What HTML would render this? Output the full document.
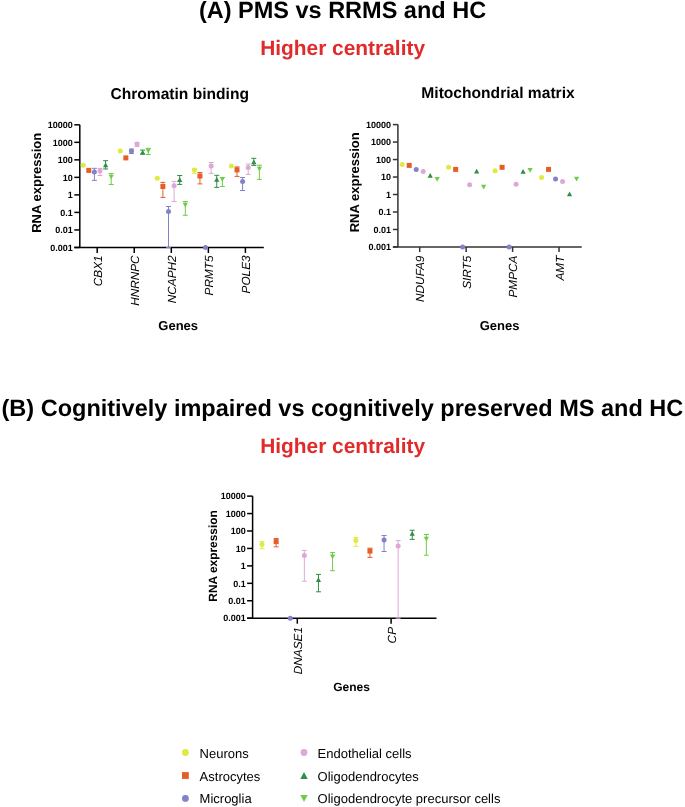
<!DOCTYPE html>
<html><head><meta charset="utf-8"><style>
html,body{margin:0;padding:0;background:#fff;}
body{width:685px;height:807px;overflow:hidden;font-family:"Liberation Sans", sans-serif;}
svg{display:block;will-change:transform;text-rendering:geometricPrecision;}
</style></head><body>
<svg width="685" height="807" viewBox="0 0 685 807" font-family='"Liberation Sans", sans-serif' fill="#000">
<rect width="685" height="807" fill="#fff"/>
<text x="342.5" y="18" font-size="23.5" font-weight="bold" text-anchor="middle">(A) PMS vs RRMS and HC</text>
<text x="342.6" y="55" font-size="20.9" font-weight="bold" text-anchor="middle" fill="#E12B2B">Higher centrality</text>
<text x="179.7" y="98.6" font-size="15.6" font-weight="bold" text-anchor="middle">Chromatin binding</text>
<text x="498" y="98.3" font-size="15.6" font-weight="bold" text-anchor="middle">Mitochondrial matrix</text>
<line x1="79.80" y1="124.81" x2="79.80" y2="247.45" stroke="#000" stroke-width="1.5"/>
<line x1="74.30" y1="247.45" x2="263.80" y2="247.45" stroke="#000" stroke-width="1.5"/>
<line x1="74.30" y1="247.45" x2="79.80" y2="247.45" stroke="#000" stroke-width="1.5"/>
<text x="72.80" y="250.69" font-size="9.0" font-weight="bold" text-anchor="end">0.001</text>
<line x1="74.30" y1="229.93" x2="79.80" y2="229.93" stroke="#000" stroke-width="1.5"/>
<text x="72.80" y="233.17" font-size="9.0" font-weight="bold" text-anchor="end">0.01</text>
<line x1="74.30" y1="212.41" x2="79.80" y2="212.41" stroke="#000" stroke-width="1.5"/>
<text x="72.80" y="215.65" font-size="9.0" font-weight="bold" text-anchor="end">0.1</text>
<line x1="74.30" y1="194.89" x2="79.80" y2="194.89" stroke="#000" stroke-width="1.5"/>
<text x="72.80" y="198.13" font-size="9.0" font-weight="bold" text-anchor="end">1</text>
<line x1="74.30" y1="177.37" x2="79.80" y2="177.37" stroke="#000" stroke-width="1.5"/>
<text x="72.80" y="180.61" font-size="9.0" font-weight="bold" text-anchor="end">10</text>
<line x1="74.30" y1="159.85" x2="79.80" y2="159.85" stroke="#000" stroke-width="1.5"/>
<text x="72.80" y="163.09" font-size="9.0" font-weight="bold" text-anchor="end">100</text>
<line x1="74.30" y1="142.33" x2="79.80" y2="142.33" stroke="#000" stroke-width="1.5"/>
<text x="72.80" y="145.57" font-size="9.0" font-weight="bold" text-anchor="end">1000</text>
<line x1="74.30" y1="124.81" x2="79.80" y2="124.81" stroke="#000" stroke-width="1.5"/>
<text x="72.80" y="128.05" font-size="9.0" font-weight="bold" text-anchor="end">10000</text>
<line x1="97.20" y1="247.45" x2="97.20" y2="252.95" stroke="#000" stroke-width="1.5"/>
<line x1="134.25" y1="247.45" x2="134.25" y2="252.95" stroke="#000" stroke-width="1.5"/>
<line x1="171.30" y1="247.45" x2="171.30" y2="252.95" stroke="#000" stroke-width="1.5"/>
<line x1="208.35" y1="247.45" x2="208.35" y2="252.95" stroke="#000" stroke-width="1.5"/>
<line x1="245.40" y1="247.45" x2="245.40" y2="252.95" stroke="#000" stroke-width="1.5"/>
<text transform="translate(41.10,182.80) rotate(-90)" x="0" y="0" font-size="13" font-weight="bold" text-anchor="middle">RNA expression</text>
<text transform="translate(101.80,255.40) rotate(-90)" x="0" y="0" font-size="11.8" font-style="italic" text-anchor="end">CBX1</text>
<text transform="translate(138.85,255.40) rotate(-90)" x="0" y="0" font-size="11.8" font-style="italic" text-anchor="end">HNRNPC</text>
<text transform="translate(175.90,255.40) rotate(-90)" x="0" y="0" font-size="11.8" font-style="italic" text-anchor="end">NCAPH2</text>
<text transform="translate(212.95,255.40) rotate(-90)" x="0" y="0" font-size="11.8" font-style="italic" text-anchor="end">PRMT5</text>
<text transform="translate(250.00,255.40) rotate(-90)" x="0" y="0" font-size="11.8" font-style="italic" text-anchor="end">POLE3</text>
<text x="178.20" y="329.90" font-size="13" font-weight="bold" text-anchor="middle">Genes</text>
<line x1="94.40" y1="168.30" x2="94.40" y2="180.40" stroke="#8282C8" stroke-width="1.0"/>
<line x1="91.90" y1="168.30" x2="96.90" y2="168.30" stroke="#8282C8" stroke-width="1.0"/>
<line x1="91.90" y1="180.40" x2="96.90" y2="180.40" stroke="#8282C8" stroke-width="1.0"/>
<line x1="100.00" y1="168.50" x2="100.00" y2="175.50" stroke="#DEA8D6" stroke-width="1.0"/>
<line x1="97.50" y1="168.50" x2="102.50" y2="168.50" stroke="#DEA8D6" stroke-width="1.0"/>
<line x1="97.50" y1="175.50" x2="102.50" y2="175.50" stroke="#DEA8D6" stroke-width="1.0"/>
<line x1="105.60" y1="160.70" x2="105.60" y2="169.00" stroke="#308C46" stroke-width="1.0"/>
<line x1="103.10" y1="160.70" x2="108.10" y2="160.70" stroke="#308C46" stroke-width="1.0"/>
<line x1="103.10" y1="169.00" x2="108.10" y2="169.00" stroke="#308C46" stroke-width="1.0"/>
<line x1="111.20" y1="173.60" x2="111.20" y2="184.50" stroke="#6ECD46" stroke-width="1.0"/>
<line x1="108.70" y1="173.60" x2="113.70" y2="173.60" stroke="#6ECD46" stroke-width="1.0"/>
<line x1="108.70" y1="184.50" x2="113.70" y2="184.50" stroke="#6ECD46" stroke-width="1.0"/>
<circle cx="83.20" cy="165.30" r="2.50" fill="#E0EA3C"/>
<rect x="86.30" y="167.90" width="5.00" height="5.00" fill="#E55E28"/>
<circle cx="94.40" cy="172.10" r="2.50" fill="#8282C8"/>
<circle cx="100.00" cy="171.00" r="2.50" fill="#DEA8D6"/>
<polygon points="105.60,162.45 103.00,167.15 108.20,167.15" fill="#308C46"/>
<polygon points="108.60,174.65 113.80,174.65 111.20,179.35" fill="#6ECD46"/>
<line x1="131.45" y1="149.10" x2="131.45" y2="153.50" stroke="#8282C8" stroke-width="1.0"/>
<line x1="128.95" y1="149.10" x2="133.95" y2="149.10" stroke="#8282C8" stroke-width="1.0"/>
<line x1="128.95" y1="153.50" x2="133.95" y2="153.50" stroke="#8282C8" stroke-width="1.0"/>
<line x1="137.05" y1="142.50" x2="137.05" y2="146.40" stroke="#DEA8D6" stroke-width="1.0"/>
<line x1="134.55" y1="142.50" x2="139.55" y2="142.50" stroke="#DEA8D6" stroke-width="1.0"/>
<line x1="134.55" y1="146.40" x2="139.55" y2="146.40" stroke="#DEA8D6" stroke-width="1.0"/>
<line x1="142.65" y1="150.10" x2="142.65" y2="154.20" stroke="#308C46" stroke-width="1.0"/>
<line x1="140.15" y1="150.10" x2="145.15" y2="150.10" stroke="#308C46" stroke-width="1.0"/>
<line x1="140.15" y1="154.20" x2="145.15" y2="154.20" stroke="#308C46" stroke-width="1.0"/>
<line x1="148.25" y1="148.30" x2="148.25" y2="154.50" stroke="#6ECD46" stroke-width="1.0"/>
<line x1="145.75" y1="148.30" x2="150.75" y2="148.30" stroke="#6ECD46" stroke-width="1.0"/>
<line x1="145.75" y1="154.50" x2="150.75" y2="154.50" stroke="#6ECD46" stroke-width="1.0"/>
<circle cx="120.25" cy="151.10" r="2.50" fill="#E0EA3C"/>
<rect x="123.35" y="155.40" width="5.00" height="5.00" fill="#E55E28"/>
<circle cx="131.45" cy="151.00" r="2.50" fill="#8282C8"/>
<circle cx="137.05" cy="144.00" r="2.50" fill="#DEA8D6"/>
<polygon points="142.65,149.85 140.05,154.55 145.25,154.55" fill="#308C46"/>
<polygon points="145.65,148.45 150.85,148.45 148.25,153.15" fill="#6ECD46"/>
<line x1="162.90" y1="182.40" x2="162.90" y2="197.40" stroke="#E55E28" stroke-width="1.0"/>
<line x1="160.40" y1="182.40" x2="165.40" y2="182.40" stroke="#E55E28" stroke-width="1.0"/>
<line x1="160.40" y1="197.40" x2="165.40" y2="197.40" stroke="#E55E28" stroke-width="1.0"/>
<line x1="168.50" y1="206.50" x2="168.50" y2="247.45" stroke="#8282C8" stroke-width="1.0"/>
<line x1="166.00" y1="206.50" x2="171.00" y2="206.50" stroke="#8282C8" stroke-width="1.0"/>
<line x1="166.00" y1="247.45" x2="171.00" y2="247.45" stroke="#8282C8" stroke-width="1.0"/>
<line x1="174.10" y1="181.40" x2="174.10" y2="201.50" stroke="#DEA8D6" stroke-width="1.0"/>
<line x1="171.60" y1="181.40" x2="176.60" y2="181.40" stroke="#DEA8D6" stroke-width="1.0"/>
<line x1="171.60" y1="201.50" x2="176.60" y2="201.50" stroke="#DEA8D6" stroke-width="1.0"/>
<line x1="179.70" y1="175.50" x2="179.70" y2="184.40" stroke="#308C46" stroke-width="1.0"/>
<line x1="177.20" y1="175.50" x2="182.20" y2="175.50" stroke="#308C46" stroke-width="1.0"/>
<line x1="177.20" y1="184.40" x2="182.20" y2="184.40" stroke="#308C46" stroke-width="1.0"/>
<line x1="185.30" y1="201.50" x2="185.30" y2="215.30" stroke="#6ECD46" stroke-width="1.0"/>
<line x1="182.80" y1="201.50" x2="187.80" y2="201.50" stroke="#6ECD46" stroke-width="1.0"/>
<line x1="182.80" y1="215.30" x2="187.80" y2="215.30" stroke="#6ECD46" stroke-width="1.0"/>
<circle cx="157.30" cy="178.30" r="2.50" fill="#E0EA3C"/>
<rect x="160.40" y="184.00" width="5.00" height="5.00" fill="#E55E28"/>
<circle cx="168.50" cy="211.40" r="2.50" fill="#8282C8"/>
<circle cx="174.10" cy="185.70" r="2.50" fill="#DEA8D6"/>
<polygon points="179.70,177.25 177.10,181.95 182.30,181.95" fill="#308C46"/>
<polygon points="182.70,202.85 187.90,202.85 185.30,207.55" fill="#6ECD46"/>
<line x1="194.35" y1="168.60" x2="194.35" y2="173.40" stroke="#E0EA3C" stroke-width="1.0"/>
<line x1="191.85" y1="168.60" x2="196.85" y2="168.60" stroke="#E0EA3C" stroke-width="1.0"/>
<line x1="191.85" y1="173.40" x2="196.85" y2="173.40" stroke="#E0EA3C" stroke-width="1.0"/>
<line x1="199.95" y1="172.50" x2="199.95" y2="183.90" stroke="#E55E28" stroke-width="1.0"/>
<line x1="197.45" y1="172.50" x2="202.45" y2="172.50" stroke="#E55E28" stroke-width="1.0"/>
<line x1="197.45" y1="183.90" x2="202.45" y2="183.90" stroke="#E55E28" stroke-width="1.0"/>
<line x1="211.15" y1="162.50" x2="211.15" y2="173.40" stroke="#DEA8D6" stroke-width="1.0"/>
<line x1="208.65" y1="162.50" x2="213.65" y2="162.50" stroke="#DEA8D6" stroke-width="1.0"/>
<line x1="208.65" y1="173.40" x2="213.65" y2="173.40" stroke="#DEA8D6" stroke-width="1.0"/>
<line x1="216.75" y1="175.30" x2="216.75" y2="187.40" stroke="#308C46" stroke-width="1.0"/>
<line x1="214.25" y1="175.30" x2="219.25" y2="175.30" stroke="#308C46" stroke-width="1.0"/>
<line x1="214.25" y1="187.40" x2="219.25" y2="187.40" stroke="#308C46" stroke-width="1.0"/>
<line x1="222.35" y1="177.50" x2="222.35" y2="186.50" stroke="#6ECD46" stroke-width="1.0"/>
<line x1="219.85" y1="177.50" x2="224.85" y2="177.50" stroke="#6ECD46" stroke-width="1.0"/>
<line x1="219.85" y1="186.50" x2="224.85" y2="186.50" stroke="#6ECD46" stroke-width="1.0"/>
<circle cx="194.35" cy="170.10" r="2.50" fill="#E0EA3C"/>
<rect x="197.45" y="173.50" width="5.00" height="5.00" fill="#E55E28"/>
<circle cx="205.55" cy="247.45" r="2.50" fill="#8282C8"/>
<circle cx="211.15" cy="166.10" r="2.50" fill="#DEA8D6"/>
<polygon points="216.75,177.05 214.15,181.75 219.35,181.75" fill="#308C46"/>
<polygon points="219.75,177.05 224.95,177.05 222.35,181.75" fill="#6ECD46"/>
<line x1="237.00" y1="166.90" x2="237.00" y2="176.40" stroke="#E55E28" stroke-width="1.0"/>
<line x1="234.50" y1="166.90" x2="239.50" y2="166.90" stroke="#E55E28" stroke-width="1.0"/>
<line x1="234.50" y1="176.40" x2="239.50" y2="176.40" stroke="#E55E28" stroke-width="1.0"/>
<line x1="242.60" y1="177.50" x2="242.60" y2="190.50" stroke="#8282C8" stroke-width="1.0"/>
<line x1="240.10" y1="177.50" x2="245.10" y2="177.50" stroke="#8282C8" stroke-width="1.0"/>
<line x1="240.10" y1="190.50" x2="245.10" y2="190.50" stroke="#8282C8" stroke-width="1.0"/>
<line x1="248.20" y1="164.00" x2="248.20" y2="174.40" stroke="#DEA8D6" stroke-width="1.0"/>
<line x1="245.70" y1="164.00" x2="250.70" y2="164.00" stroke="#DEA8D6" stroke-width="1.0"/>
<line x1="245.70" y1="174.40" x2="250.70" y2="174.40" stroke="#DEA8D6" stroke-width="1.0"/>
<line x1="253.80" y1="158.30" x2="253.80" y2="165.40" stroke="#308C46" stroke-width="1.0"/>
<line x1="251.30" y1="158.30" x2="256.30" y2="158.30" stroke="#308C46" stroke-width="1.0"/>
<line x1="251.30" y1="165.40" x2="256.30" y2="165.40" stroke="#308C46" stroke-width="1.0"/>
<line x1="259.40" y1="165.20" x2="259.40" y2="179.40" stroke="#6ECD46" stroke-width="1.0"/>
<line x1="256.90" y1="165.20" x2="261.90" y2="165.20" stroke="#6ECD46" stroke-width="1.0"/>
<line x1="256.90" y1="179.40" x2="261.90" y2="179.40" stroke="#6ECD46" stroke-width="1.0"/>
<circle cx="231.40" cy="166.10" r="2.50" fill="#E0EA3C"/>
<rect x="234.50" y="167.40" width="5.00" height="5.00" fill="#E55E28"/>
<circle cx="242.60" cy="181.50" r="2.50" fill="#8282C8"/>
<circle cx="248.20" cy="167.50" r="2.50" fill="#DEA8D6"/>
<polygon points="253.80,159.45 251.20,164.15 256.40,164.15" fill="#308C46"/>
<polygon points="256.80,166.75 262.00,166.75 259.40,171.45" fill="#6ECD46"/>
<line x1="397.90" y1="124.59" x2="397.90" y2="246.95" stroke="#333" stroke-width="1.5"/>
<line x1="392.90" y1="246.95" x2="581.70" y2="246.95" stroke="#333" stroke-width="1.5"/>
<line x1="392.90" y1="246.95" x2="397.90" y2="246.95" stroke="#333" stroke-width="1.5"/>
<text x="391.00" y="250.19" font-size="9.0" font-weight="bold" text-anchor="end">0.001</text>
<line x1="392.90" y1="229.47" x2="397.90" y2="229.47" stroke="#333" stroke-width="1.5"/>
<text x="391.00" y="232.71" font-size="9.0" font-weight="bold" text-anchor="end">0.01</text>
<line x1="392.90" y1="211.99" x2="397.90" y2="211.99" stroke="#333" stroke-width="1.5"/>
<text x="391.00" y="215.23" font-size="9.0" font-weight="bold" text-anchor="end">0.1</text>
<line x1="392.90" y1="194.51" x2="397.90" y2="194.51" stroke="#333" stroke-width="1.5"/>
<text x="391.00" y="197.75" font-size="9.0" font-weight="bold" text-anchor="end">1</text>
<line x1="392.90" y1="177.03" x2="397.90" y2="177.03" stroke="#333" stroke-width="1.5"/>
<text x="391.00" y="180.27" font-size="9.0" font-weight="bold" text-anchor="end">10</text>
<line x1="392.90" y1="159.55" x2="397.90" y2="159.55" stroke="#333" stroke-width="1.5"/>
<text x="391.00" y="162.79" font-size="9.0" font-weight="bold" text-anchor="end">100</text>
<line x1="392.90" y1="142.07" x2="397.90" y2="142.07" stroke="#333" stroke-width="1.5"/>
<text x="391.00" y="145.31" font-size="9.0" font-weight="bold" text-anchor="end">1000</text>
<line x1="392.90" y1="124.59" x2="397.90" y2="124.59" stroke="#333" stroke-width="1.5"/>
<text x="391.00" y="127.83" font-size="9.0" font-weight="bold" text-anchor="end">10000</text>
<line x1="419.70" y1="246.95" x2="419.70" y2="251.95" stroke="#333" stroke-width="1.5"/>
<line x1="466.15" y1="246.95" x2="466.15" y2="251.95" stroke="#333" stroke-width="1.5"/>
<line x1="512.60" y1="246.95" x2="512.60" y2="251.95" stroke="#333" stroke-width="1.5"/>
<line x1="559.05" y1="246.95" x2="559.05" y2="251.95" stroke="#333" stroke-width="1.5"/>
<text transform="translate(359.00,182.30) rotate(-90)" x="0" y="0" font-size="13" font-weight="bold" text-anchor="middle">RNA expression</text>
<text transform="translate(424.30,255.60) rotate(-90)" x="0" y="0" font-size="11.8" font-style="italic" text-anchor="end">NDUFA9</text>
<text transform="translate(470.75,255.60) rotate(-90)" x="0" y="0" font-size="11.8" font-style="italic" text-anchor="end">SIRT5</text>
<text transform="translate(517.20,255.60) rotate(-90)" x="0" y="0" font-size="11.8" font-style="italic" text-anchor="end">PMPCA</text>
<text transform="translate(563.65,255.60) rotate(-90)" x="0" y="0" font-size="11.8" font-style="italic" text-anchor="end">AMT</text>
<text x="499.60" y="329.90" font-size="13" font-weight="bold" text-anchor="middle">Genes</text>
<circle cx="402.20" cy="164.60" r="2.50" fill="#E0EA3C"/>
<rect x="406.70" y="162.90" width="5.00" height="5.00" fill="#E55E28"/>
<circle cx="416.20" cy="169.40" r="2.50" fill="#8282C8"/>
<circle cx="423.20" cy="171.60" r="2.50" fill="#DEA8D6"/>
<polygon points="430.20,173.05 427.60,177.75 432.80,177.75" fill="#308C46"/>
<polygon points="434.60,177.05 439.80,177.05 437.20,181.75" fill="#6ECD46"/>
<circle cx="448.65" cy="167.20" r="2.50" fill="#E0EA3C"/>
<rect x="453.15" y="166.90" width="5.00" height="5.00" fill="#E55E28"/>
<circle cx="462.65" cy="246.95" r="2.50" fill="#8282C8"/>
<circle cx="469.65" cy="184.80" r="2.50" fill="#DEA8D6"/>
<polygon points="476.65,168.85 474.05,173.55 479.25,173.55" fill="#308C46"/>
<polygon points="481.05,184.75 486.25,184.75 483.65,189.45" fill="#6ECD46"/>
<circle cx="495.10" cy="170.80" r="2.50" fill="#E0EA3C"/>
<rect x="499.60" y="164.80" width="5.00" height="5.00" fill="#E55E28"/>
<circle cx="509.10" cy="246.95" r="2.50" fill="#8282C8"/>
<circle cx="516.10" cy="184.20" r="2.50" fill="#DEA8D6"/>
<polygon points="523.10,169.05 520.50,173.75 525.70,173.75" fill="#308C46"/>
<polygon points="527.50,168.05 532.70,168.05 530.10,172.75" fill="#6ECD46"/>
<circle cx="541.55" cy="177.40" r="2.50" fill="#E0EA3C"/>
<rect x="546.05" y="166.90" width="5.00" height="5.00" fill="#E55E28"/>
<circle cx="555.55" cy="178.90" r="2.50" fill="#8282C8"/>
<circle cx="562.55" cy="181.40" r="2.50" fill="#DEA8D6"/>
<polygon points="569.55,191.45 566.95,196.15 572.15,196.15" fill="#308C46"/>
<polygon points="573.95,176.85 579.15,176.85 576.55,181.55" fill="#6ECD46"/>
<text x="342.4" y="415.7" font-size="23.5" font-weight="bold" text-anchor="middle">(B) Cognitively impaired vs cognitively preserved MS and HC</text>
<text x="342.6" y="453" font-size="20.9" font-weight="bold" text-anchor="middle" fill="#E12B2B">Higher centrality</text>
<line x1="252.60" y1="496.12" x2="252.60" y2="618.20" stroke="#000" stroke-width="1.5"/>
<line x1="247.10" y1="618.20" x2="436.50" y2="618.20" stroke="#000" stroke-width="1.5"/>
<line x1="247.10" y1="618.20" x2="252.60" y2="618.20" stroke="#000" stroke-width="1.5"/>
<text x="245.80" y="621.44" font-size="9.0" font-weight="bold" text-anchor="end">0.001</text>
<line x1="247.10" y1="600.76" x2="252.60" y2="600.76" stroke="#000" stroke-width="1.5"/>
<text x="245.80" y="604.00" font-size="9.0" font-weight="bold" text-anchor="end">0.01</text>
<line x1="247.10" y1="583.32" x2="252.60" y2="583.32" stroke="#000" stroke-width="1.5"/>
<text x="245.80" y="586.56" font-size="9.0" font-weight="bold" text-anchor="end">0.1</text>
<line x1="247.10" y1="565.88" x2="252.60" y2="565.88" stroke="#000" stroke-width="1.5"/>
<text x="245.80" y="569.12" font-size="9.0" font-weight="bold" text-anchor="end">1</text>
<line x1="247.10" y1="548.44" x2="252.60" y2="548.44" stroke="#000" stroke-width="1.5"/>
<text x="245.80" y="551.68" font-size="9.0" font-weight="bold" text-anchor="end">10</text>
<line x1="247.10" y1="531.00" x2="252.60" y2="531.00" stroke="#000" stroke-width="1.5"/>
<text x="245.80" y="534.24" font-size="9.0" font-weight="bold" text-anchor="end">100</text>
<line x1="247.10" y1="513.56" x2="252.60" y2="513.56" stroke="#000" stroke-width="1.5"/>
<text x="245.80" y="516.80" font-size="9.0" font-weight="bold" text-anchor="end">1000</text>
<line x1="247.10" y1="496.12" x2="252.60" y2="496.12" stroke="#000" stroke-width="1.5"/>
<text x="245.80" y="499.36" font-size="9.0" font-weight="bold" text-anchor="end">10000</text>
<line x1="297.30" y1="618.20" x2="297.30" y2="623.70" stroke="#000" stroke-width="1.5"/>
<line x1="391.10" y1="618.20" x2="391.10" y2="623.70" stroke="#000" stroke-width="1.5"/>
<text transform="translate(216.60,556.00) rotate(-90)" x="0" y="0" font-size="11.9" font-weight="bold" text-anchor="middle">RNA expression</text>
<text transform="translate(301.90,627.00) rotate(-90)" x="0" y="0" font-size="11.8" font-style="italic" text-anchor="end">DNASE1</text>
<text transform="translate(395.70,627.00) rotate(-90)" x="0" y="0" font-size="11.8" font-style="italic" text-anchor="end">CP</text>
<text x="351.50" y="691.00" font-size="12" font-weight="bold" text-anchor="middle">Genes</text>
<line x1="262.05" y1="541.60" x2="262.05" y2="548.70" stroke="#E0EA3C" stroke-width="1.0"/>
<line x1="259.55" y1="541.60" x2="264.55" y2="541.60" stroke="#E0EA3C" stroke-width="1.0"/>
<line x1="259.55" y1="548.70" x2="264.55" y2="548.70" stroke="#E0EA3C" stroke-width="1.0"/>
<line x1="276.15" y1="538.50" x2="276.15" y2="546.80" stroke="#E55E28" stroke-width="1.0"/>
<line x1="273.65" y1="538.50" x2="278.65" y2="538.50" stroke="#E55E28" stroke-width="1.0"/>
<line x1="273.65" y1="546.80" x2="278.65" y2="546.80" stroke="#E55E28" stroke-width="1.0"/>
<line x1="304.35" y1="550.40" x2="304.35" y2="581.20" stroke="#DEA8D6" stroke-width="1.0"/>
<line x1="301.85" y1="550.40" x2="306.85" y2="550.40" stroke="#DEA8D6" stroke-width="1.0"/>
<line x1="301.85" y1="581.20" x2="306.85" y2="581.20" stroke="#DEA8D6" stroke-width="1.0"/>
<line x1="318.45" y1="574.40" x2="318.45" y2="591.80" stroke="#308C46" stroke-width="1.0"/>
<line x1="315.95" y1="574.40" x2="320.95" y2="574.40" stroke="#308C46" stroke-width="1.0"/>
<line x1="315.95" y1="591.80" x2="320.95" y2="591.80" stroke="#308C46" stroke-width="1.0"/>
<line x1="332.55" y1="552.60" x2="332.55" y2="570.70" stroke="#6ECD46" stroke-width="1.0"/>
<line x1="330.05" y1="552.60" x2="335.05" y2="552.60" stroke="#6ECD46" stroke-width="1.0"/>
<line x1="330.05" y1="570.70" x2="335.05" y2="570.70" stroke="#6ECD46" stroke-width="1.0"/>
<circle cx="262.05" cy="544.50" r="2.50" fill="#E0EA3C"/>
<rect x="273.65" y="539.10" width="5.00" height="5.00" fill="#E55E28"/>
<circle cx="290.25" cy="618.20" r="2.50" fill="#8282C8"/>
<circle cx="304.35" cy="555.60" r="2.50" fill="#DEA8D6"/>
<polygon points="318.45,577.35 315.85,582.05 321.05,582.05" fill="#308C46"/>
<polygon points="329.95,554.55 335.15,554.55 332.55,559.25" fill="#6ECD46"/>
<line x1="355.85" y1="537.50" x2="355.85" y2="546.30" stroke="#E0EA3C" stroke-width="1.0"/>
<line x1="353.35" y1="537.50" x2="358.35" y2="537.50" stroke="#E0EA3C" stroke-width="1.0"/>
<line x1="353.35" y1="546.30" x2="358.35" y2="546.30" stroke="#E0EA3C" stroke-width="1.0"/>
<line x1="369.95" y1="548.20" x2="369.95" y2="557.40" stroke="#E55E28" stroke-width="1.0"/>
<line x1="367.45" y1="548.20" x2="372.45" y2="548.20" stroke="#E55E28" stroke-width="1.0"/>
<line x1="367.45" y1="557.40" x2="372.45" y2="557.40" stroke="#E55E28" stroke-width="1.0"/>
<line x1="384.05" y1="535.50" x2="384.05" y2="551.50" stroke="#8282C8" stroke-width="1.0"/>
<line x1="381.55" y1="535.50" x2="386.55" y2="535.50" stroke="#8282C8" stroke-width="1.0"/>
<line x1="381.55" y1="551.50" x2="386.55" y2="551.50" stroke="#8282C8" stroke-width="1.0"/>
<line x1="398.15" y1="540.60" x2="398.15" y2="618.20" stroke="#DEA8D6" stroke-width="1.0"/>
<line x1="395.65" y1="540.60" x2="400.65" y2="540.60" stroke="#DEA8D6" stroke-width="1.0"/>
<line x1="395.65" y1="618.20" x2="400.65" y2="618.20" stroke="#DEA8D6" stroke-width="1.0"/>
<line x1="412.25" y1="530.20" x2="412.25" y2="539.40" stroke="#308C46" stroke-width="1.0"/>
<line x1="409.75" y1="530.20" x2="414.75" y2="530.20" stroke="#308C46" stroke-width="1.0"/>
<line x1="409.75" y1="539.40" x2="414.75" y2="539.40" stroke="#308C46" stroke-width="1.0"/>
<line x1="426.35" y1="534.50" x2="426.35" y2="555.20" stroke="#6ECD46" stroke-width="1.0"/>
<line x1="423.85" y1="534.50" x2="428.85" y2="534.50" stroke="#6ECD46" stroke-width="1.0"/>
<line x1="423.85" y1="555.20" x2="428.85" y2="555.20" stroke="#6ECD46" stroke-width="1.0"/>
<circle cx="355.85" cy="540.60" r="2.50" fill="#E0EA3C"/>
<rect x="367.45" y="548.60" width="5.00" height="5.00" fill="#E55E28"/>
<circle cx="384.05" cy="540.00" r="2.50" fill="#8282C8"/>
<circle cx="398.15" cy="546.00" r="2.50" fill="#DEA8D6"/>
<polygon points="412.25,531.15 409.65,535.85 414.85,535.85" fill="#308C46"/>
<polygon points="423.75,536.75 428.95,536.75 426.35,541.45" fill="#6ECD46"/>
<circle cx="185.40" cy="752.50" r="3.40" fill="#E0EA3C"/>
<text x="199.60" y="757.50" font-size="13">Neurons</text>
<rect x="182.00" y="772.10" width="6.80" height="6.80" fill="#E55E28"/>
<text x="199.60" y="780.50" font-size="13">Astrocytes</text>
<circle cx="185.40" cy="798.40" r="3.40" fill="#8282C8"/>
<text x="199.60" y="803.40" font-size="13">Microglia</text>
<circle cx="304.00" cy="752.50" r="3.40" fill="#DEA8D6"/>
<text x="317.60" y="757.50" font-size="13">Endothelial cells</text>
<polygon points="304.00,772.00 300.30,779.00 307.70,779.00" fill="#308C46"/>
<text x="317.60" y="780.50" font-size="13">Oligodendrocytes</text>
<polygon points="300.30,794.90 307.70,794.90 304.00,801.90" fill="#6ECD46"/>
<text x="317.60" y="803.40" font-size="13">Oligodendrocyte precursor cells</text>
</svg>
</body></html>
